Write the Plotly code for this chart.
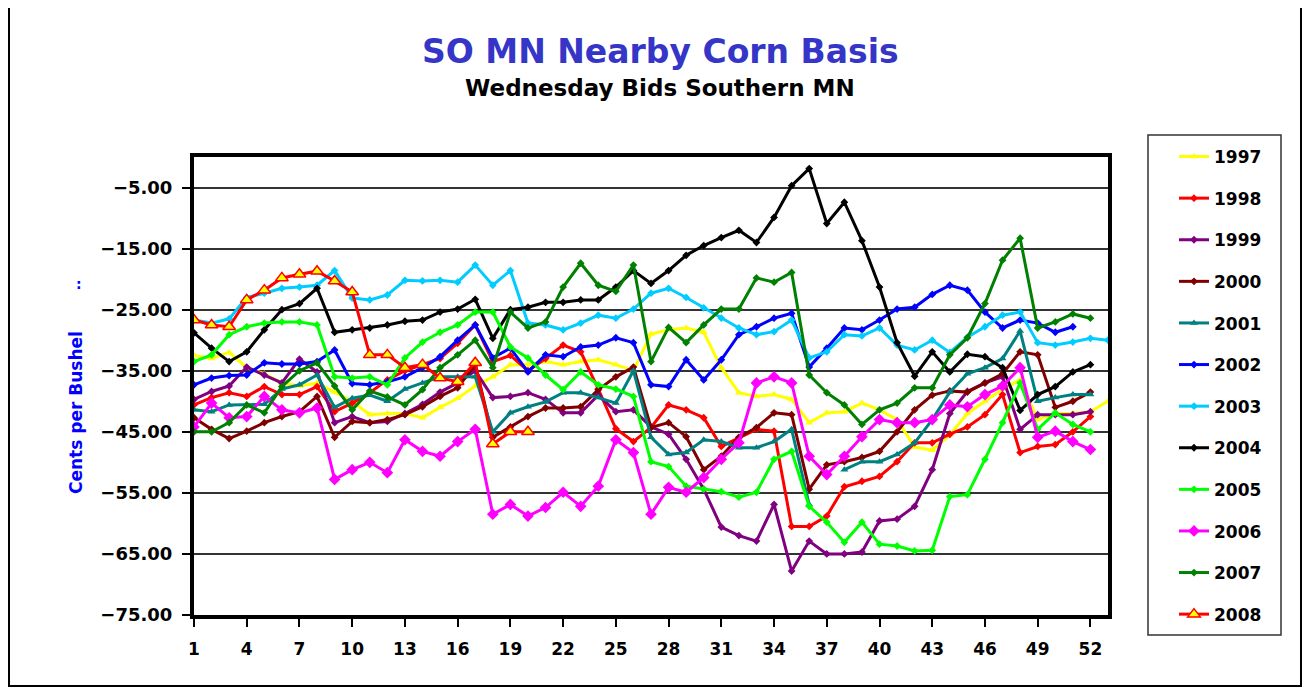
import plotly.graph_objects as go

weeks = list(range(1, 54))
years = ["1997", "1998", "1999", "2000", "2001", "2002", "2003", "2004", "2005", "2006", "2007", "2008"]

y1997 = [-32.5, -33, -32, -34.5, -35.5, -37, -37.5, -37, -38.5, -40, -42.2, -42, -42, -42.7, -41, -39.5, -37.5, -36, -34, -34,
         -33.5, -34, -33.5, -33.2, -34, -35, -29, -28.3, -28, -28.7, -34.5, -38.6, -39.2, -38.9, -39.7, -43.5, -41.9, -41.7, -40.3, -41.4,
         -43, -47.5, -48, -45.5, -42, -40, -38, -36.5, -43, -42, -42, -41.7, -40]
y1998 = [-40.6, -39.4, -38.6, -39.2, -37.6, -38.9, -38.9, -37.6, -41.7, -40.3, -38.6, -36.5, -35, -34, -33, -30.5, -27.5, -33.5, -32.5, -35,
         -33, -30.8, -31.9, -38, -44.5, -46.6, -44.3, -40.6, -41.4, -42.7, -47.4, -46, -44.6, -44.9, -60.5, -60.5, -58.8, -54, -53.1, -52.3,
         -49.9, -46.8, -46.8, -45.4, -44.2, -42.2, -38.9, -48.4, -47.4, -47.1, -45, -42.5]
y1999 = [-39.7, -38.4, -37.5, -34.4, -35.7, -37, -33.1, -35.2, -43.5, -42.5, -43.5, -43.3, -42, -40.5, -38.5, -37, -35, -39.4, -39.2, -38.6,
         -39.7, -41.9, -41.9, -39, -41.7, -41.4, -44.2, -45.4, -49.5, -54.4, -60.6, -62, -62.9, -56.9, -67.8, -62.9, -65, -65, -64.7, -59.6,
         -59.3, -57.2, -51.2, -42, -38.4, -37, -36, -44.6, -42.2, -42.2, -42.2, -41.7]
y2000 = [-42.7, -44.6, -46.1, -44.9, -43.5, -42.5, -41.7, -39.2, -45.9, -43.3, -43.5, -43, -42.2, -40.9, -39.2, -37.8, -34, -45.9, -44.2, -42.5,
         -41.1, -41.1, -40.9, -38.1, -36, -34.4, -44.3, -43.5, -45.8, -51.2, -49, -45.9, -44.3, -41.9, -42.2, -54.4, -50.4, -49.9, -49.2, -48.2,
         -45, -41.4, -39, -38.3, -38.5, -37, -35.5, -31.9, -32.4, -41, -40, -38.5]
y2001 = [-41.4, -41.7, -40.6, -40.6, -40.5, -38, -37.3, -35.7, -41, -39.5, -39, -40, -38, -37, -36, -36, -36, -45, -41.9, -40.9,
         -40.1, -38.6, -38.6, -39.4, -40.3, -35, -45.9, -48.7, -48.4, -46.3, -46.6, -47.6, -47.6, -46.6, -44.6, -56.9, None, -51.2, -49.9, -49.9,
         -48.7, -46.8, -43, -38.5, -35.5, -34.5, -33, -28.5, -40, -39.4, -38.9, -38.9]
y2002 = [-37.3, -36.2, -35.8, -35.7, -33.7, -33.9, -33.9, -33.5, -31.6, -37.1, -37.3, -36.8, -36, -34.5, -32.7, -30, -27.5, -32.9, -31.3, -35.2,
         -32.4, -32.7, -31.1, -30.8, -29.6, -30.4, -37.3, -37.6, -33.2, -36.5, -33.2, -29.1, -27.8, -26.4, -25.6, -34.4, -31.3, -28, -28.3, -26.7,
         -24.9, -24.6, -22.5, -21, -21.8, -25.4, -28, -26.7, -27.2, -28.7, -27.8]
y2003 = [-26.7, -27.2, -26.5, -23, -22.3, -21.5, -21.3, -21, -18.6, -23.1, -23.4, -22.6, -20.2, -20.3, -20.2, -20.5, -17.7, -21, -18.6, -27.2,
         -27.5, -28.3, -27.2, -25.9, -26.4, -24.9, -22.3, -21.5, -23, -24.7, -26.4, -28, -29.1, -28.6, -26.7, -32.9, -31.9, -29.1, -29.3, -28,
         -30.8, -31.6, -30, -32, -29.5, -27.8, -25.9, -25.4, -30.4, -30.8, -30.3, -29.7, -30]
y2004 = [-28.8, -31.3, -33.5, -31.9, -28.3, -25, -24, -21.5, -28.7, -28.3, -28, -27.5, -26.9, -26.7, -25.4, -24.9, -23.3, -29.7, -25, -24.6,
         -23.8, -23.8, -23.4, -23.4, -21.3, -18.6, -20.7, -18.6, -16.1, -14.5, -13.2, -12, -14, -9.9, -4.7, -1.9, -10.9, -7.4, -13.7, -21.3,
         -30.4, -35.9, -31.9, -35.2, -32.3, -32.7, -34.5, -41.5, -38.9, -37.6, -35.2, -34]
y2005 = [-33.5, -32.4, -29.1, -27.8, -27.2, -27, -27, -27.5, -36, -36.2, -36, -37.3, -32.9, -30.3, -28.7, -27.5, -25.4, -25.4, -31.1, -32.9,
         -35.7, -38.1, -35.2, -37.3, -38, -39.2, -49.9, -50.7, -53.9, -54.4, -54.8, -55.7, -54.9, -49.5, -48.2, -57.2, -59.8, -63.1, -59.8, -63.4,
         -63.7, -64.5, -64.4, -55.6, -55.3, -49.5, -43.5, -37, -44.6, -41.9, -43.8, -45]
y2006 = [-44.2, -40.3, -42.7, -42.5, -39.2, -41.4, -41.9, -41.1, -52.8, -51.2, -50, -51.7, -46.3, -48.2, -49, -46.6, -44.6, -58.5, -56.9, -58.8,
         -57.4, -54.9, -57.2, -53.9, -46.3, -48.4, -58.5, -54.1, -54.9, -52.5, -49.5, -46.8, -37, -36, -37, -49, -52, -49, -45.8, -43,
         -43.5, -43.5, -43, -40.6, -40.9, -38.9, -37.5, -34.5, -45.9, -44.9, -46.6, -47.9]
y2007 = [-45, -45, -43.5, -40.6, -41.9, -37.6, -35, -33.7, -37.5, -41.4, -38.3, -39.3, -40.6, -38.1, -34.5, -32.4, -30, -34.5, -25.4, -28,
         -27, -21.3, -17.4, -21, -22, -17.7, -33.5, -27.9, -30.4, -27.5, -24.9, -24.9, -19.8, -20.5, -18.9, -35.7, -38.6, -40.6, -43.8, -41.4,
         -40.3, -37.8, -37.8, -32.4, -29.6, -24, -16.9, -13.3, -28, -27, -25.7, -26.4]
y2008 = [-26.7, -27.5, -27.8, -23.4, -21.8, -19.8, -19.2, -18.7, -20.3, -22.1, -32.4, -32.4, -34.5, -34, -36.2, -36.8, -33.7, -47, -45, -45]

series = [y1997, y1998, y1999, y2000, y2001, y2002, y2003, y2004, y2005, y2006, y2007, y2008]
colors = ["#FFFF00", "#FF0000", "#800080", "#800000", "#008080", "#0000FF", "#00CCFF", "#000000", "#00FF00", "#FF00FF", "#008000", "#FF0000"]
symbols = ["triangle-up", "diamond", "diamond", "diamond", "triangle-up", "diamond", "diamond", "diamond", "diamond", "diamond", "diamond", "triangle-up"]
sizes = [7, 6, 6, 6, 7, 6, 6, 6, 6, 9, 6, 11]

xticks = list(range(1, 53, 3))
yticks = list(range(-75, 0, 10))

FONT = "DejaVu Sans, Verdana, sans-serif"

fig = go.Figure()
for i, (yr, vals) in enumerate(zip(years, series)):
    if yr == "2008":
        marker = dict(symbol=symbols[i], size=sizes[i], color="#FFFF00", line=dict(color="#FF0000", width=1.5))
    else:
        marker = dict(symbol=symbols[i], size=sizes[i], color=colors[i], line=dict(width=0))
    fig.add_trace(go.Scatter(
        x=weeks[:len(vals)], y=vals, name=yr, mode="lines+markers",
        line=dict(color=colors[i], width=3), marker=marker,
        connectgaps=False, legendgroup=yr,
    ))

# page body has an 8px margin; all reference pixel positions are shifted by it
OFF = 8
W, H = 1302, 682
L, T = 194 - OFF, 157 - OFF
pw, ph = 1108 - 194, 615 - 157
R = W - L - pw
B = H - T - ph


def px(x):
    return (x - OFF - L) / pw


def py(y):
    return (H - B - (y - OFF)) / ph


fig.update_layout(
    width=W, height=H,
    margin=dict(l=L, r=R, t=T, b=B),
    paper_bgcolor="white", plot_bgcolor="white",
    font=dict(family=FONT, color="black"),
    showlegend=True,
    legend=dict(
        x=px(1174), y=py(139), xanchor="left", yanchor="top",
        font=dict(family=FONT, size=17, color="black", weight="bold"),
        bgcolor="rgba(0,0,0,0)", borderwidth=0,
        tracegroupgap=16.5, itemsizing="trace", maxheight=660,
    ),
    xaxis=dict(
        range=[1, 53], tickmode="array", tickvals=xticks, ticktext=[str(v) for v in xticks],
        showgrid=False, zeroline=False, showline=True, linecolor="black", linewidth=4, mirror=True,
        ticks="outside", ticklen=8, tickwidth=2, tickcolor="black", ticklabelstandoff=8,
        tickfont=dict(family=FONT, size=17, color="black", weight="bold"),
    ),
    yaxis=dict(
        range=[-75, 0], tickmode="array", tickvals=yticks, tickformat=".2f",
        showgrid=True, gridcolor="#333333", gridwidth=2, zeroline=False,
        showline=True, linecolor="black", linewidth=4, mirror=True,
        ticks="outside", ticklen=8, tickwidth=2, tickcolor="black", ticklabelstandoff=6,
        tickfont=dict(family=FONT, size=18, color="black", weight="bold"),
    ),
    annotations=[
        dict(text="SO MN Nearby Corn Basis", xref="paper", yref="paper", x=px(660), y=py(52),
             showarrow=False, font=dict(family=FONT, size=33, color="#3535C8", weight="bold"),
             xanchor="center", yanchor="middle"),
        dict(text="Wednesday Bids Southern MN", xref="paper", yref="paper", x=px(660), y=py(88),
             showarrow=False, font=dict(family=FONT, size=23, color="black", weight="bold"),
             xanchor="center", yanchor="middle"),
        dict(text="Cents per Bushel", xref="paper", yref="paper", x=px(76), y=py(413),
             showarrow=False, textangle=-90, font=dict(family=FONT, size=17, color="#0000FF", weight="bold"),
             xanchor="center", yanchor="middle"),
        dict(text=":", xref="paper", yref="paper", x=px(79), y=py(284),
             showarrow=False, font=dict(family=FONT, size=14, color="#0000FF", weight="bold"),
             xanchor="center", yanchor="middle"),
    ],
    shapes=[
        dict(type="rect", xref="paper", yref="paper", x0=px(9), x1=px(1301), y0=py(686), y1=py(6),
             line=dict(color="black", width=2), fillcolor="rgba(0,0,0,0)", layer="below"),
        dict(type="rect", xref="paper", yref="paper", x0=px(1148), x1=px(1281), y0=py(635), y1=py(135),
             line=dict(color="#333333", width=1.5), fillcolor="rgba(0,0,0,0)", layer="below"),
    ],
)

fig.write_html("out.html")
